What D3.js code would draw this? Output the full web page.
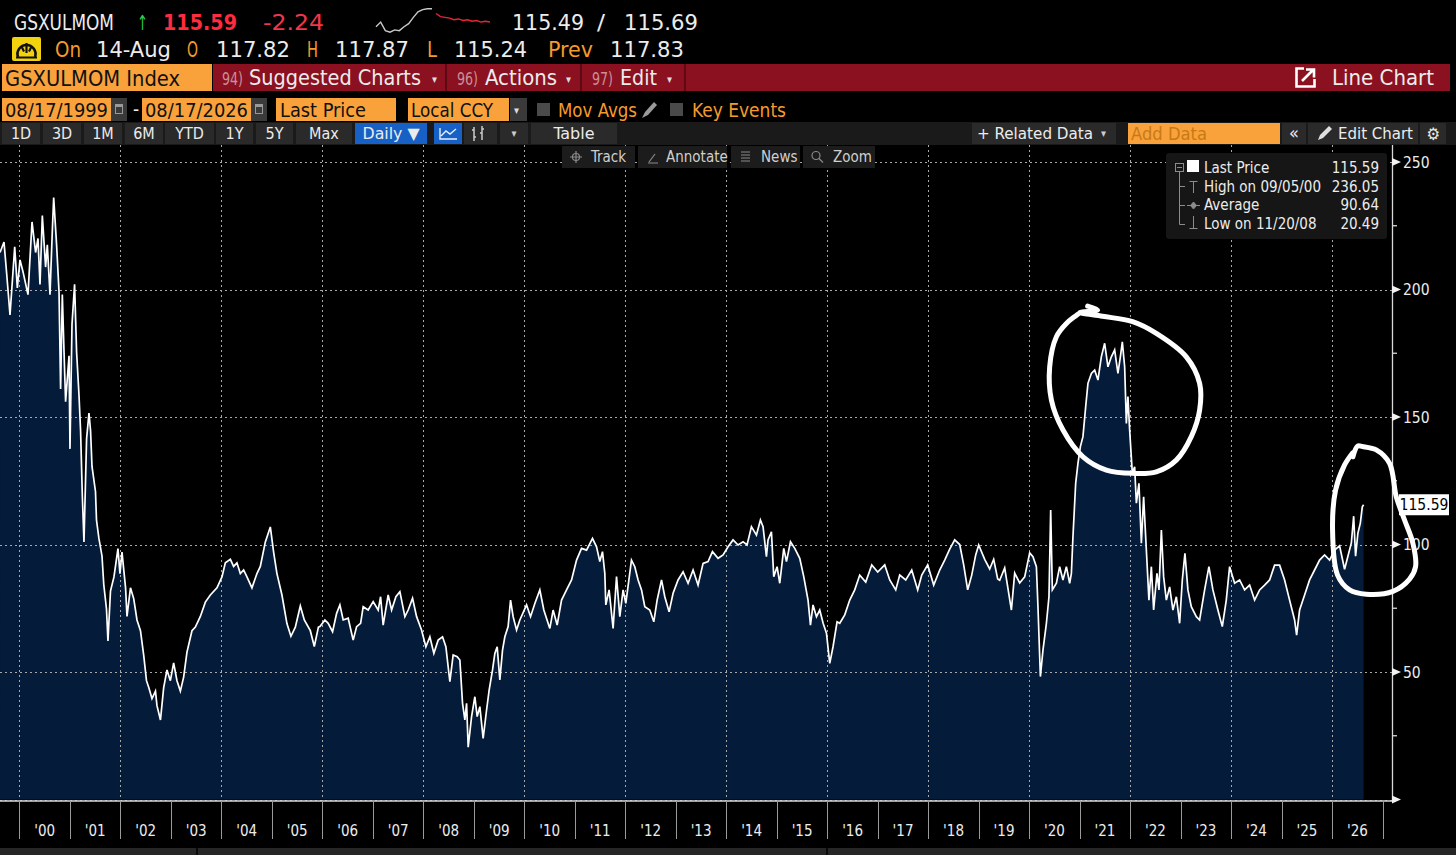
<!DOCTYPE html>
<html><head><meta charset="utf-8">
<script src="https://cdn.jsdelivr.net/npm/d3@7"></script>
<style>html,body{margin:0;padding:0;background:#000;overflow:hidden}svg{display:block}</style>
</head><body>
<svg id="c" width="1456" height="855"></svg>
<script>
// ---------------- DATA ----------------
// GSXULMOM Index, dates as decimal years
const dateYears = [
1999.614,1999.693,1999.747,1999.812,1999.905,1999.957,2000.010,2000.069,2000.168,2000.248,
2000.319,2000.366,2000.406,2000.452,2000.517,2000.551,2000.604,2000.650,2000.677,2000.735,
2000.783,2000.814,2000.848,2000.882,2000.913,2000.981,2001.000,2001.040,2001.091,2001.131,
2001.178,2001.210,2001.244,2001.277,2001.329,2001.376,2001.408,2001.436,2001.505,2001.525,
2001.572,2001.634,2001.669,2001.723,2001.752,2001.802,2001.871,2001.950,2001.990,2002.030,
2002.101,2002.129,2002.198,2002.263,2002.327,2002.396,2002.461,2002.515,2002.562,2002.624,
2002.693,2002.723,2002.792,2002.855,2002.921,2002.988,2003.053,2003.119,2003.186,2003.251,
2003.317,2003.416,2003.483,2003.582,2003.681,2003.780,2003.911,2004.010,2004.077,2004.176,
2004.241,2004.307,2004.374,2004.439,2004.505,2004.604,2004.703,2004.770,2004.869,2004.968,
2005.033,2005.099,2005.198,2005.297,2005.376,2005.463,2005.562,2005.641,2005.760,2005.839,
2005.920,2005.950,2006.049,2006.114,2006.201,2006.281,2006.346,2006.411,2006.510,2006.609,
2006.677,2006.756,2006.807,2006.906,2007.005,2007.104,2007.152,2007.203,2007.302,2007.370,
2007.455,2007.534,2007.633,2007.698,2007.785,2007.865,2007.963,2008.049,2008.128,2008.207,
2008.292,2008.379,2008.445,2008.524,2008.589,2008.669,2008.722,2008.775,2008.821,2008.855,
2008.887,2008.954,2009.019,2009.065,2009.118,2009.183,2009.251,2009.302,2009.369,2009.415,
2009.461,2009.514,2009.567,2009.613,2009.678,2009.726,2009.777,2009.845,2009.910,2010.043,
2010.122,2010.207,2010.306,2010.385,2010.504,2010.569,2010.649,2010.736,2010.835,2010.934,
2011.033,2011.132,2011.231,2011.349,2011.429,2011.494,2011.547,2011.593,2011.613,2011.678,
2011.757,2011.825,2011.890,2011.955,2012.009,2012.121,2012.187,2012.252,2012.320,2012.385,
2012.484,2012.563,2012.629,2012.716,2012.781,2012.866,2012.945,2013.044,2013.143,2013.242,
2013.341,2013.440,2013.539,2013.638,2013.725,2013.836,2013.935,2014.034,2014.133,2014.232,
2014.331,2014.410,2014.497,2014.596,2014.675,2014.727,2014.794,2014.826,2014.893,2014.939,
2015.005,2015.058,2015.137,2015.191,2015.270,2015.355,2015.454,2015.533,2015.618,2015.666,
2015.717,2015.785,2015.850,2015.917,2015.983,2016.048,2016.113,2016.193,2016.246,2016.345,
2016.444,2016.543,2016.642,2016.761,2016.880,2016.998,2017.137,2017.236,2017.355,2017.434,
2017.553,2017.672,2017.790,2017.870,2017.988,2018.107,2018.226,2018.325,2018.424,2018.523,
2018.622,2018.701,2018.780,2018.860,2018.939,2018.998,2019.117,2019.216,2019.295,2019.374,
2019.414,2019.513,2019.646,2019.711,2019.810,2019.909,2020.008,2020.073,2020.141,2020.172,
2020.220,2020.271,2020.339,2020.390,2020.424,2020.457,2020.537,2020.602,2020.667,2020.735,
2020.800,2020.834,2020.865,2020.919,2020.964,2021.012,2021.063,2021.117,2021.162,2021.230,
2021.295,2021.360,2021.427,2021.493,2021.558,2021.625,2021.691,2021.756,2021.804,2021.843,
2021.889,2021.923,2021.954,2021.988,2022.041,2022.087,2022.121,2022.172,2022.220,2022.265,
2022.319,2022.370,2022.418,2022.463,2022.529,2022.569,2022.616,2022.661,2022.715,2022.780,
2022.845,2022.913,2022.978,2023.031,2023.083,2023.142,2023.209,2023.309,2023.374,2023.473,
2023.558,2023.637,2023.736,2023.823,2023.902,2023.968,2024.067,2024.166,2024.265,2024.364,
2024.463,2024.562,2024.661,2024.760,2024.859,2024.958,2025.057,2025.156,2025.255,2025.295,
2025.354,2025.453,2025.552,2025.651,2025.750,2025.849,2025.948,2026.047,2026.146,2026.245,
2026.311,2026.379,2026.425,2026.463,2026.509,2026.557,2026.596,2026.622
];
const values = [
214.5,218.6,206,190,216.7,200.6,211.6,207,198,226.5,
214.5,220,202,229,208.8,217.5,198,223,236.05,217.5,
199,161,198,175.5,156,174,137.5,186.5,202,175.5,
158.7,144.5,119.4,101,141.5,151.5,144.5,130.6,120.8,109.6,
102.5,95.5,84.3,74.7,62.2,81.7,87.3,98.4,88.6,97,
83,71.8,83,78.7,70.4,66.2,56.4,46.6,43.8,39.6,
42.5,36.8,31.2,43.8,50.8,46.6,53.6,46.6,42.5,48,
57.8,66.2,67.6,71.8,77.4,80.2,83,87.3,92.8,94.2,
91.4,92.8,88.6,90,87.3,83,88.6,91.4,101,106.9,
97,88.6,80.2,69,64,67.6,75.9,70.4,66.2,60,
67.6,67.8,70.4,69.1,65.8,73,76.3,70.4,71.1,62.5,
67.8,69.1,75.6,74.3,77.6,74.3,79.5,68.4,80.2,74.3,
79.5,81.5,71.7,74.3,78.9,71.7,66.5,59.9,63.8,57.3,
62.5,63.8,59.9,46.2,56.7,56,54.7,37.7,31.2,37.7,
20.49,32.5,40.3,32.5,36.4,24,35.1,42.9,50.8,57.3,
59.9,46.9,58.6,63.8,67.8,78.2,71.7,66.5,70.4,76.3,
71.7,76.9,82.2,74.3,67.1,74.3,68.4,78.2,82.2,86.1,
93.9,98.5,97.8,102.4,99.1,93.3,97.2,88.7,76.3,82.2,
67.1,87.4,71.7,82.2,76.9,93.9,91.3,86.1,82.2,75.6,
74.3,69.7,78.2,86.1,79.5,73.6,80.9,86.1,89.3,84.8,
90,84.1,92.6,93.3,97.2,94.6,95.9,99.1,101.8,99.8,
101.1,99.8,107,103.7,109.6,107,95.2,101.8,105,87.4,
91.3,84.8,98.5,93.3,101.1,98.5,94.6,87.4,78.2,68.4,
76.3,71.7,74.3,69.1,65.2,53.4,59.9,69.7,69.1,72.4,
78.2,82.2,88,85.3,92,89.2,92,86.1,82.2,88,
86.1,90,82.2,88,92,84.1,90,93.9,98.2,101.8,
100,92,82.2,88,95.9,99.8,94.2,90.4,94.2,86.5,
86,90.8,74.3,88.8,84.9,87.3,96.7,95.2,91.3,75.6,
48.2,58.6,69.1,79.5,113.5,82.2,84.8,91.3,86.1,91.3,
84.8,88.7,103,124,131.8,138.4,142.3,154,163.2,167.1,
168.4,164.5,173.6,178.9,169.7,173.6,176.3,167.1,173.6,179.5,
169.7,147.5,158,144.9,128,130.5,116.2,124,100.5,118.7,
97.8,78.2,91.3,74.3,88.7,82.2,105.7,87.4,78.2,83.4,
74.3,79.5,69.1,86.1,96.5,82.2,75.6,71.7,70.4,82.2,
91.3,82.2,74.3,67.8,78.2,91.3,84.8,86.1,82.2,84.1,
78.2,82.2,84.1,86.1,91.9,91.9,86.1,78.2,70.4,64.5,
74.3,80.2,86.1,90,93.9,95.9,93.9,97.8,99.5,90.3,
95.4,100.6,111.1,95.4,104.5,108.4,114.8,115.59
];
const lastPrice = 115.59;
const yMajorTicks = [0, 50, 100, 150, 200, 250];
const yMinorTicks = [25, 75, 125, 175, 225];
const yearStarts = d3.range(2000, 2028);
const yearLabels = ["'00","'01","'02","'03","'04","'05","'06","'07","'08","'09","'10","'11","'12","'13","'14","'15","'16","'17","'18","'19","'20","'21","'22","'23","'24","'25","'26"];
const gridYears = [2000,2002,2004,2006,2008,2010,2012,2014,2016,2018,2020,2022,2024,2026];
const legendLabels = ["Last Price","High on 09/05/00","Average","Low on 11/20/08"];
const legendValues = ["115.59","236.05","90.64","20.49"];
// header sparkline (previous session grey, current session red)
const sparkPrev = [116.0,116.6,115.5,115.3,115.6,115.5,116.0,116.4,117.2,117.9,118.2,118.3,118.3];
const sparkCurr = [117.7,117.3,117.2,117.1,116.9,117.0,116.8,116.9,116.7,116.8,116.6,116.7,116.6];
// hand-drawn annotation rings (year, value)
const ring1 = [[2021.156,193.5],[2021.354,192],[2021.0,191],[2021.45,189.5],[2022.047,187.4],[2022.516,182.8],[2023.110,173.6],[2023.374,163.2],[2023.374,152.7],[2023.209,142.3],[2022.912,133.1],[2022.516,128.5],[2022.053,127.9],[2021.527,129.2],[2021.064,134.4],[2020.668,144.9],[2020.438,156.7],[2020.404,169.7],[2020.537,181.5],[2020.735,186.7],[2020.97,190.4]];
const ring2 = [[2026.410,134.4],[2026.503,138.6],[2026.60,138.4],[2026.873,137.1],[2027.136,131.8],[2027.269,118.7],[2027.433,109.6],[2027.598,100.5],[2027.651,91.3],[2027.532,86.4],[2027.202,81.6],[2026.675,80.5],[2026.344,82.2],[2026.106,88],[2026.007,105.7],[2026.067,121.4],[2026.245,131.2],[2026.40,135.8]];

// ---------------- SETUP ----------------
const svg = d3.select('#c');
const UI = "'DejaVu Sans Condensed','DejaVu Sans',sans-serif";
const W = 1456, H = 855;
svg.append('rect').attr('width', W).attr('height', H).attr('fill', '#000');

const x = d3.scaleLinear().domain([1999.6138, 2027]).range([0, 1382.7]);
const y = d3.scaleLinear().domain([0, 250]).range([799.5, 162]);
const AXX = 1392, PLOT_TOP = 145, AXY = 800.5;

function T(px, py, s, o = {}) {
  const t = svg.append('text').attr('x', px).attr('y', py).text(s)
    .attr('fill', o.c || '#ececec').attr('font-size', o.fs || 20)
    .attr('font-family', o.ff || UI).style('font-stretch', 'condensed');
  if (o.w) t.attr('textLength', o.w).attr('lengthAdjust', 'spacingAndGlyphs');
  if (o.fw) t.attr('font-weight', o.fw);
  if (o.a) t.attr('text-anchor', o.a);
  return t;
}
function R(px, py, w, h, fill) {
  return svg.append('rect').attr('x', px).attr('y', py).attr('width', w).attr('height', h).attr('fill', fill);
}

// ---------------- PLOT ----------------
const pts = dateYears.map((d, i) => [d, values[i]]);
svg.append('path').datum(pts)
  .attr('d', d3.area().x(d => x(d[0])).y0(y(0)).y1(d => y(d[1])))
  .attr('fill', '#041c3a');

// gridlines
const grid = svg.append('g').attr('stroke', '#a8a8a8').attr('stroke-width', 1).attr('stroke-dasharray', '2,3');
grid.selectAll('line.gh').data(yMajorTicks).join('line').attr('class', 'gh')
  .attr('x1', 0).attr('x2', AXX).attr('y1', d => Math.round(y(d)) + 0.5).attr('y2', d => Math.round(y(d)) + 0.5);
grid.selectAll('line.gv').data(gridYears).join('line').attr('class', 'gv')
  .attr('x1', d => Math.round(x(d)) + 0.5).attr('x2', d => Math.round(x(d)) + 0.5)
  .attr('y1', PLOT_TOP).attr('y2', AXY);

svg.append('path').datum(pts)
  .attr('d', d3.line().x(d => x(d[0])).y(d => y(d[1])))
  .attr('fill', 'none').attr('stroke', '#ffffff').attr('stroke-width', 1.7).attr('stroke-linejoin', 'miter');

// x axis
svg.append('line').attr('x1', 0).attr('x2', AXX + 4).attr('y1', AXY + 0.5).attr('y2', AXY + 0.5).attr('stroke', '#d8d8d8').attr('stroke-width', 1.3);
svg.selectAll('line.xt').data(yearStarts).join('line').attr('class', 'xt')
  .attr('x1', d => Math.round(x(d)) + 0.5).attr('x2', d => Math.round(x(d)) + 0.5)
  .attr('y1', AXY).attr('y2', 839).attr('stroke', '#9a9a9a').attr('stroke-width', 1);
svg.selectAll('text.xl').data(yearLabels).join('text').attr('class', 'xl')
  .attr('x', (d, i) => x(2000 + i + 0.5)).attr('y', 836)
  .attr('text-anchor', 'middle').attr('fill', '#ececec').attr('font-size', 15)
  .attr('font-family', UI).style('font-stretch', 'condensed').text(d => d);

// y axis
svg.append('line').attr('x1', AXX + 0.5).attr('x2', AXX + 0.5).attr('y1', PLOT_TOP).attr('y2', AXY + 1).attr('stroke', '#d8d8d8').attr('stroke-width', 1.3);
svg.selectAll('path.ymaj').data(yMajorTicks).join('path').attr('class', 'ymaj')
  .attr('d', d => { const yy = y(d); return `M${AXX},${yy - 4}L${AXX + 9},${yy}L${AXX},${yy + 4}Z`; })
  .attr('fill', '#f2f2f2');
svg.selectAll('line.ymin').data(yMinorTicks).join('line').attr('class', 'ymin')
  .attr('x1', AXX).attr('x2', AXX + 5).attr('y1', d => y(d)).attr('y2', d => y(d))
  .attr('stroke', '#d8d8d8').attr('stroke-width', 1.3);
svg.selectAll('text.yl').data(yMajorTicks.filter(d => d > 0)).join('text').attr('class', 'yl')
  .attr('x', AXX + 11).attr('y', d => y(d) + 5.5).attr('fill', '#ececec')
  .attr('font-size', 15.5).attr('font-family', UI).style('font-stretch', 'condensed').text(d => d);

// last price tag
R(AXX + 7, y(lastPrice) - 10.5, 50, 21, '#ffffff');
T(AXX + 32, y(lastPrice) + 5.5, lastPrice.toFixed(2), { c: '#000', fs: 15.5, a: 'middle' });

// legend
R(1166, 153, 221, 86, '#161616').attr('rx', 3);
const lg = svg.append('g').attr('stroke', '#8c8c8c').attr('stroke-width', 1).attr('fill', 'none');
lg.append('rect').attr('x', 1175.5).attr('y', 163.5).attr('width', 8).attr('height', 8);
lg.append('line').attr('x1', 1177).attr('x2', 1182).attr('y1', 167.5).attr('y2', 167.5);
lg.append('path').attr('d', 'M1179.5,172V224.5H1185M1179.5,186.5H1185M1179.5,205.5H1185');
lg.append('path').attr('d', 'M1189.5,181.5H1197.5M1193.5,181.5V193');
lg.append('path').attr('d', 'M1187,205.5H1200');
lg.append('path').attr('d', 'M1193.5,202L1196.5,205.5L1193.5,209L1190.5,205.5Z').attr('fill', '#8c8c8c');
lg.append('path').attr('d', 'M1193.5,216V228.5M1189.5,228.5H1197.5');
R(1187, 160, 12, 12, '#ffffff');
const legY = [173, 191.5, 210, 228.5];
legendLabels.forEach((s, i) => {
  T(1204, legY[i], s, { fs: 15 });
  T(1379, legY[i], legendValues[i], { fs: 15, a: 'end' });
});

// ---------------- HEADER ----------------
// row 1
T(14, 30, 'GSXULMOM', { w: 100, fs: 21 });
T(137, 30, '\u2191', { c: '#27cf4c', fs: 21, w: 11 });
T(163, 30, '115.59', { c: '#ff2b3f', fs: 22, fw: 'bold', w: 74 });
T(263, 30, '-2.24', { c: '#f0374d', fs: 21, w: 61 });
const sx1 = d3.scaleLinear().domain([0, sparkPrev.length - 1]).range([376, 432]);
const sx2 = d3.scaleLinear().domain([0, sparkCurr.length - 1]).range([436, 490]);
const sy = d3.scaleLinear().domain([115.2, 118.4]).range([33, 8]);
svg.append('path').attr('d', d3.line().x((d, i) => sx1(i)).y(d => sy(d))(sparkPrev)).attr('fill', 'none').attr('stroke', '#c9c9c9').attr('stroke-width', 1.4);
svg.append('path').attr('d', d3.line().x((d, i) => sx2(i)).y(d => sy(d))(sparkCurr)).attr('fill', 'none').attr('stroke', '#e8243a').attr('stroke-width', 1.4);
T(512, 30, '115.49', { w: 72, fs: 21 });
T(597, 30, '/', { w: 8, fs: 21 });
T(624, 30, '115.69', { w: 74, fs: 21 });

// row 2 (yellow gauge icon + OHLC)
R(12, 37, 29, 24, '#f2d20f').attr('rx', 2);
svg.append('path').attr('d', 'M18,57A9,9 0 1 1 35,57').attr('fill', 'none').attr('stroke', '#111').attr('stroke-width', 2.6);
svg.append('path').attr('d', 'M26.5,43V53M21.5,46.5L24,51.5M31.5,46.5L29,51.5M16,57.5H37').attr('stroke', '#111').attr('stroke-width', 2.2).attr('fill', 'none');
const OR = '#f59a2c';
T(55, 57, 'On', { c: OR, w: 26, fs: 21 });
T(96, 57, '14-Aug', { w: 75, fs: 21 });
T(187, 57, 'O', { c: OR, w: 11, fs: 21 });
T(216, 57, '117.82', { w: 74, fs: 21 });
T(307, 57, 'H', { c: OR, w: 11, fs: 21 });
T(335, 57, '117.87', { w: 74, fs: 21 });
T(427, 57, 'L', { c: OR, w: 10, fs: 21 });
T(454, 57, '115.24', { w: 73, fs: 21 });
T(548, 57, 'Prev', { c: OR, w: 45, fs: 21 });
T(610, 57, '117.83', { w: 74, fs: 21 });

// row 3
const ORB = '#f9a23b', RED = '#8b1121';
R(2, 64, 210, 27, ORB);
T(5, 86, 'GSXULMOM Index', { c: '#111', w: 175, fs: 21 });
R(213, 64, 1237, 27, RED);
[445, 580, 684].forEach(px => R(px, 64, 2, 27, '#5e0914'));
T(222, 85, '94)', { c: '#c89098', w: 21, fs: 18 });
T(249, 85, 'Suggested Charts', { w: 172, fs: 21 });
T(432, 83, '\u25BE', { c: '#ddd', fs: 11 });
T(457, 85, '96)', { c: '#c89098', w: 21, fs: 18 });
T(485, 85, 'Actions', { w: 72, fs: 21 });
T(566, 83, '\u25BE', { c: '#ddd', fs: 11 });
T(592, 85, '97)', { c: '#c89098', w: 21, fs: 18 });
T(620, 85, 'Edit', { w: 37, fs: 21 });
T(667, 83, '\u25BE', { c: '#ddd', fs: 11 });
svg.append('path').attr('d', 'M1304,68.5H1296.5V86.5H1314.5V79').attr('fill', 'none').attr('stroke', '#fff').attr('stroke-width', 2.6);
svg.append('path').attr('d', 'M1302,81L1313,70M1306,69.5H1314V77.5').attr('fill', 'none').attr('stroke', '#fff').attr('stroke-width', 2.6);
T(1332, 85, 'Line Chart', { w: 102, fs: 21 });

// row 4
function cal(px) {
  R(px, 98, 16, 23, '#3a3a3a');
  R(px + 4, 104, 8, 10, '#9a9a9a');
  R(px + 5, 107, 6, 6, '#3a3a3a');
}
R(2, 98, 109, 23, ORB); T(5, 117, '08/17/1999', { c: '#111', w: 103, fs: 19 }); cal(111);
T(133, 116, '-', { fs: 19 });
R(142, 98, 109, 23, ORB); T(145, 117, '08/17/2026', { c: '#111', w: 103, fs: 19 }); cal(251);
R(276, 98, 120, 23, ORB); T(280, 117, 'Last Price', { c: '#111', w: 86, fs: 19 });
R(408, 98, 101, 23, ORB); T(411, 117, 'Local CCY', { c: '#111', w: 82, fs: 19 });
R(510, 98, 17, 23, '#3a3a3a'); T(514, 114, '\u25BE', { c: '#ddd', fs: 11 });
R(537, 103, 13, 13, '#4a4a4a');
T(558, 117, 'Mov Avgs', { c: OR, w: 79, fs: 19 });
svg.append('path').attr('d', 'M642,118L645,112L654,102L657,105L648,115Z').attr('fill', '#9a9a9a');
R(670, 103, 13, 13, '#4a4a4a');
T(692, 117, 'Key Events', { c: OR, w: 94, fs: 19 });

// row 5
R(0, 122, W, 23, '#1a1a1a');
const btns = [[2, 38, '1D'], [43, 38, '3D'], [84, 38, '1M'], [125, 38, '6M'], [165, 49, 'YTD'], [216, 37, '1Y'], [256, 37, '5Y'], [296, 56, 'Max']];
btns.forEach(b => {
  R(b[0], 123, b[1], 21, '#2a2a2a');
  T(b[0] + b[1] / 2, 139, b[2], { fs: 16, a: 'middle' });
});
R(355, 123, 72, 21, '#1761c6'); T(391, 139, 'Daily \u25BC', { fs: 16, a: 'middle', w: 57 });
R(434, 123, 28, 21, '#1761c6');
svg.append('path').attr('d', 'M440,128V139H457M441,136L446,131L450,134L456,129').attr('fill', 'none').attr('stroke', '#e8eefc').attr('stroke-width', 1.4);
R(464, 123, 33, 21, '#2a2a2a');
svg.append('path').attr('d', 'M474,127V141M472,130H474M474,137H476M482,126V140M480,133H482M482,129H484').attr('fill', 'none').attr('stroke', '#ccc').attr('stroke-width', 1.5);
R(500, 123, 28, 21, '#2a2a2a'); T(514, 137, '\u25BE', { c: '#ccc', fs: 11, a: 'middle' });
R(531, 123, 86, 21, '#2a2a2a'); T(574, 139, 'Table', { fs: 16, a: 'middle', w: 41 });
R(972, 123, 144, 21, '#2a2a2a'); T(977, 139, '+ Related Data', { fs: 16, w: 116 }); T(1101, 137, '\u25BE', { c: '#ccc', fs: 11 });
R(1128, 123, 152, 21, ORB); T(1131, 140, 'Add Data', { c: '#c77a14', fs: 17, w: 76 });
R(1282, 123, 24, 21, '#2a2a2a'); T(1294, 139, '\u00AB', { fs: 18, a: 'middle' });
R(1308, 123, 110, 21, '#2a2a2a');
svg.append('path').attr('d', 'M1318,140L1320,135L1329,126L1332,129L1323,138Z').attr('fill', '#e0e0e0');
T(1338, 139, 'Edit Chart', { fs: 16, w: 75 });
R(1420, 123, 26, 21, '#2a2a2a');
T(1433, 140, '\u2699', { fs: 17, a: 'middle', c: '#e6e6e6' });

// row 6 tool buttons
const tools = [[562, 73, 'Track', 591], [638, 89, 'Annotate', 666], [731, 69, 'News', 761], [803, 72, 'Zoom', 833]];
tools.forEach(b => {
  R(b[0], 146, b[1], 22, '#1c1c1c');
  T(b[3], 162, b[2], { fs: 15, c: '#cfcfcf' });
});
const ic = svg.append('g').attr('stroke', '#8a8a8a').attr('fill', 'none').attr('stroke-width', 1.2);
ic.append('circle').attr('cx', 576).attr('cy', 157).attr('r', 3.5);
ic.append('path').attr('d', 'M570,157H582M576,151V163');
ic.append('path').attr('d', 'M648,163H658M649,162L655,154');
ic.append('path').attr('d', 'M741,152H750M741,155H750M741,158H750M741,161H750');
ic.append('circle').attr('cx', 816).attr('cy', 155.5).attr('r', 4);
ic.append('path').attr('d', 'M819,158.5L823,162.5');

// bottom status strip
R(0, 848, W, 7, '#262626');
R(196, 848, 2, 7, '#0a0a0a');
R(826, 848, 2, 7, '#0a0a0a');

// ---------------- HAND-DRAWN RINGS ----------------
const ringLine = d3.line().x(d => x(d[0])).y(d => y(d[1])).curve(d3.curveCatmullRom.alpha(0.5));
[ring1, ring2].forEach(r => {
  svg.append('path').attr('d', ringLine(r)).attr('fill', 'none')
    .attr('stroke', '#ffffff').attr('stroke-width', 5).attr('stroke-linecap', 'round').attr('stroke-linejoin', 'round');
});
</script>
</body></html>
